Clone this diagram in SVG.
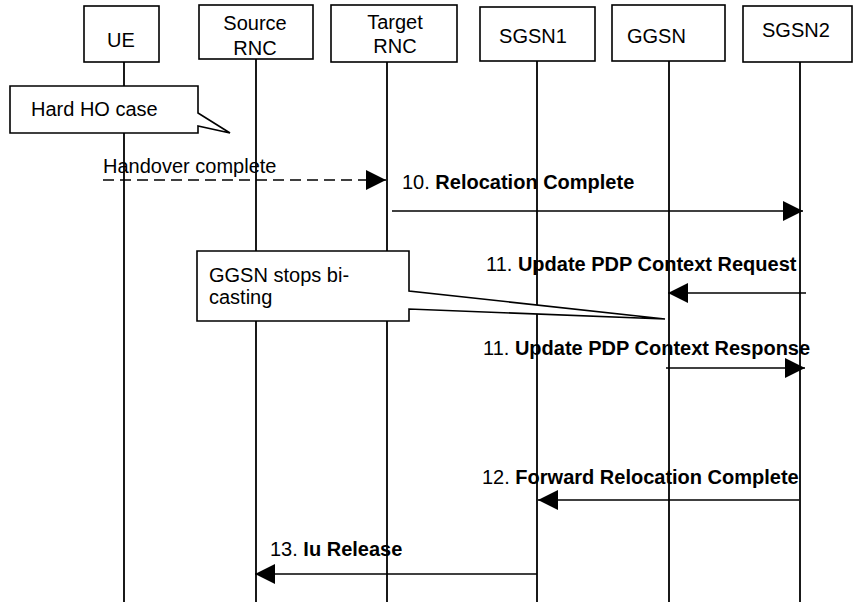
<svg xmlns="http://www.w3.org/2000/svg" width="853" height="602" viewBox="0 0 853 602">
<style>
  .box{fill:#fff;stroke:#000;stroke-width:1.6}
  .life{stroke:#000;stroke-width:1.8;fill:none}
  .note{fill:#fff;stroke:#000;stroke-width:1.6;stroke-linejoin:miter}
  .msg{stroke:#000;stroke-width:1.6;fill:none}
  .dash{stroke-dasharray:11 6}
  text{font-family:"Liberation Sans",Arial,sans-serif;font-size:20px;fill:#000}
  .b{font-weight:bold}
</style>
<defs>
  <marker id="ah" viewBox="0 0 20 20" refX="20" refY="10" markerWidth="20" markerHeight="20" markerUnits="userSpaceOnUse" orient="auto">
    <path d="M0,0 L20,10 L0,20 z" fill="#000"/>
  </marker>
</defs>
<rect width="853" height="602" fill="#fff"/>

<g id="UE">
  <line class="life" x1="124" y1="62" x2="124" y2="602"/>
  <rect class="box" x="84" y="6" width="75" height="56"/>
  <text x="121" y="47" text-anchor="middle">UE</text>
</g>
<g id="SourceRNC">
  <line class="life" x1="256" y1="59" x2="256" y2="602"/>
  <rect class="box" x="199" y="5" width="114" height="54"/>
  <text x="255" y="30" text-anchor="middle">Source</text>
  <text x="255" y="55" text-anchor="middle">RNC</text>
</g>
<g id="TargetRNC">
  <line class="life" x1="387" y1="62" x2="387" y2="602"/>
  <rect class="box" x="331" y="5" width="126" height="57"/>
  <text x="395" y="29" text-anchor="middle">Target</text>
  <text x="395" y="53" text-anchor="middle">RNC</text>
</g>
<g id="SGSN1">
  <line class="life" x1="537" y1="61" x2="537" y2="602"/>
  <rect class="box" x="480" y="7" width="115" height="54"/>
  <text x="533" y="43" text-anchor="middle">SGSN1</text>
</g>
<g id="GGSN">
  <line class="life" x1="669" y1="61" x2="669" y2="602"/>
  <rect class="box" x="612" y="5" width="113" height="56"/>
  <text x="627" y="43">GGSN</text>
</g>
<g id="SGSN2">
  <line class="life" x1="800" y1="62" x2="800" y2="602"/>
  <rect class="box" x="743" y="6" width="109" height="56"/>
  <text x="762" y="37">SGSN2</text>
</g>

<g id="note-hardho">
  <path class="note" d="M10,86 L198,86 L198,113 L230,133 L198,126 L198,133 L10,133 Z"/>
  <text x="31" y="116">Hard HO case</text>
</g>
<g id="note-bicasting">
  <path class="note" d="M197,251 L409,251 L409,291 L665,319 L409,309 L409,321 L197,321 Z"/>
  <text x="209" y="282">GGSN stops bi-</text>
  <text x="209" y="304">casting</text>
</g>

<g id="connectors">
  <line class="msg dash" x1="103" y1="180" x2="386" y2="180" marker-end="url(#ah)"/>
  <text x="103" y="173">Handover complete</text>

  <line class="msg" x1="392" y1="211" x2="803" y2="211" marker-end="url(#ah)"/>
  <text x="402" y="189">10. <tspan class="b">Relocation Complete</tspan></text>

  <line class="msg" x1="806" y1="293" x2="668" y2="293" marker-end="url(#ah)"/>
  <text x="486" y="271">11. <tspan class="b">Update PDP Context Request</tspan></text>

  <line class="msg" x1="666" y1="368" x2="805" y2="368" marker-end="url(#ah)"/>
  <text x="483" y="355">11. <tspan class="b">Update PDP Context Response</tspan></text>

  <line class="msg" x1="799" y1="500" x2="538" y2="500" marker-end="url(#ah)"/>
  <text x="482" y="484">12. <tspan class="b">Forward Relocation Complete</tspan></text>

  <line class="msg" x1="537" y1="574" x2="255" y2="574" marker-end="url(#ah)"/>
  <text x="270" y="556">13. <tspan class="b">Iu Release</tspan></text>
</g>
</svg>
